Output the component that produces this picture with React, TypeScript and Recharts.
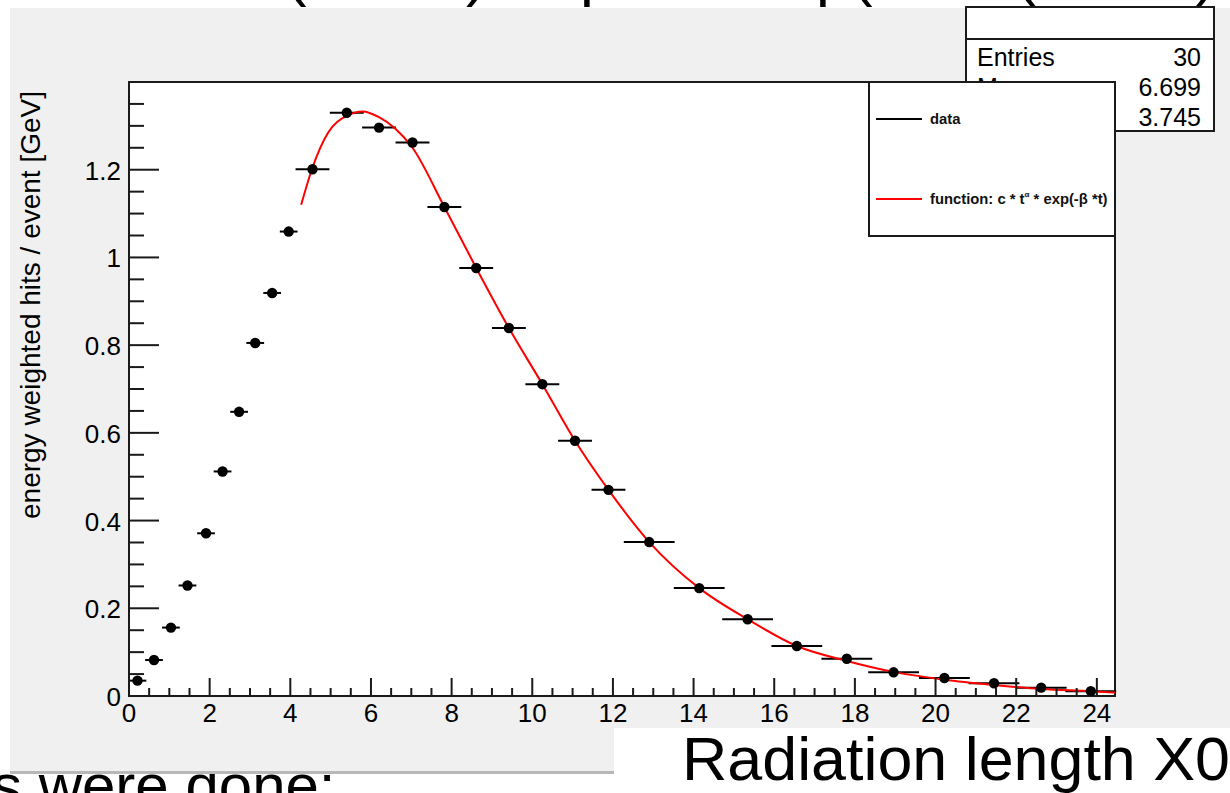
import React from 'react';
import { ComposedChart, Scatter, Line, XAxis, YAxis, ErrorBar } from 'recharts';

// ---- data ----
const binCenters = [0.21, 0.62, 1.04, 1.45, 1.91, 2.32, 2.73, 3.13, 3.55, 3.96,
  4.55, 5.40, 6.20, 7.03, 7.82, 8.61, 9.42, 10.25, 11.06, 11.89,
  12.90, 14.14, 15.34, 16.56, 17.80, 18.96, 20.22, 21.45, 22.62, 23.85];
const binValues = [0.035, 0.082, 0.156, 0.252, 0.371, 0.512, 0.648, 0.805, 0.919, 1.059,
  1.201, 1.330, 1.296, 1.262, 1.115, 0.976, 0.839, 0.711, 0.582, 0.470,
  0.351, 0.246, 0.175, 0.114, 0.085, 0.054, 0.041, 0.029, 0.019, 0.011];
const binHalfWidths = [0.22, 0.22, 0.22, 0.22, 0.22, 0.22, 0.22, 0.22, 0.22, 0.22,
  0.42, 0.42, 0.42, 0.42, 0.42, 0.42, 0.42, 0.42, 0.42, 0.42,
  0.63, 0.63, 0.63, 0.63, 0.63, 0.63, 0.63, 0.63, 0.63, 0.63];

const fitT = [4.27, 4.55, 4.94, 5.40, 5.80, 6.20, 6.60, 7.03, 7.82, 8.61, 9.42, 10.25, 11.06,
  11.89, 12.90, 14.14, 15.34, 16.56, 17.80, 18.96, 20.22, 21.45, 22.62, 23.85, 24.45];
const fitF = [1.12, 1.205, 1.285, 1.323, 1.333, 1.320, 1.294, 1.250, 1.115, 0.976, 0.839, 0.711, 0.582,
  0.470, 0.351, 0.246, 0.175, 0.114, 0.080, 0.055, 0.037, 0.025, 0.016, 0.011, 0.008];

const xMajorTicks = [0, 2, 4, 6, 8, 10, 12, 14, 16, 18, 20, 22, 24];
const xTickLabels = ['0', '2', '4', '6', '8', '10', '12', '14', '16', '18', '20', '22', '24'];
const yMajorTicks = [0, 0.2, 0.4, 0.6, 0.8, 1.0, 1.2];
const yTickLabels = ['0', '0.2', '0.4', '0.6', '0.8', '1', '1.2'];
const xAllTicks = Array.from({ length: 49 }, (_, i) => i * 0.5);
const yAllTicks = Array.from({ length: 28 }, (_, i) => Math.round(i * 5) / 100);

const statsLabels = ['Entries', 'Mean', 'RMS'];
const statsValues = ['30', '6.699', '3.745'];
const legendLabels = ['data', 'function: c * t', ' * exp(-\u03b2 *t)'];

const X_DOMAIN: [number, number] = [0, 24.45];
const Y_DOMAIN: [number, number] = [0, 1.4];

const FONT = 'Liberation Sans, Arial, Helvetica, sans-serif';
const INK = '#1a1a1a';

const points = binCenters.map((t, i) => ({ t, v: binValues[i], xe: binHalfWidths[i] }));
const fit = fitT.map((t, i) => ({ t, f: fitF[i] }));

const near = (a: number, b: number) => Math.abs(a - b) < 1e-6;

const XTick = (props: any) => {
  const { x, y, payload } = props;
  const idx = xMajorTicks.findIndex((m) => near(m, payload.value));
  const major = idx >= 0;
  return (
    <g>
      <line x1={x} x2={x} y1={y} y2={y - (major ? 18 : 8)} stroke={INK} strokeWidth={2} />
      {major && (
        <text x={x} y={y + 26} textAnchor="middle" fontSize={26} fontFamily={FONT} fill="#000">
          {xTickLabels[idx]}
        </text>
      )}
    </g>
  );
};

const YTick = (props: any) => {
  const { x, y, payload } = props;
  const idx = yMajorTicks.findIndex((m) => near(m, payload.value));
  const major = idx >= 0;
  return (
    <g>
      <line x1={x} x2={x + (major ? 30 : 15)} y1={y} y2={y} stroke={INK} strokeWidth={2} />
      {major && (
        <text x={x - 8} y={y + 10} textAnchor="end" fontSize={26} fontFamily={FONT} fill="#000">
          {yTickLabels[idx]}
        </text>
      )}
    </g>
  );
};

const Marker = (props: any) => {
  const { cx, cy } = props;
  return <circle cx={cx} cy={cy} r={5.2} fill="#000" />;
};

export default function App() {
  return (
    <div style={{ position: 'absolute', left: 0, top: 0, width: 1230, height: 793, overflow: 'hidden', background: '#fff' }}>
      {/* background layer */}
      <svg width={1230} height={793} style={{ position: 'absolute', left: 0, top: 0 }}>
        {/* cut-off slide title fragments */}
        <g fontFamily={FONT} fontSize={62} fill="#000">
          <text x={286} y={-6}>(</text>
          <text x={466} y={-6}>)</text>
          <text x={580} y={-6}>p</text>
          <text x={816} y={-6}>p</text>
          <text x={852} y={-6}>(</text>
          <text x={1016} y={-6}>(</text>
          <text x={1195} y={-6}>)</text>
        </g>
        {/* cut-off slide body text */}
        <text x={-8} y={806} fontFamily={FONT} fontSize={60} fill="#000">s were done:</text>
        {/* ROOT canvas */}
        <rect x={10} y={8} width={1220} height={764} fill="#f0f0f0" />
        <rect x={10} y={771} width={1220} height={3} fill="#b8b8b8" />
        {/* plot frame */}
        <rect x={129} y={82} width={986} height={614} fill="#fff" stroke={INK} strokeWidth={2} />
      </svg>

      <div style={{ position: 'absolute', left: 0, top: 0 }}>
        <ComposedChart width={1230} height={793} margin={{ top: 82, right: 115, bottom: 0, left: 0 }}>
          <XAxis
            type="number"
            dataKey="t"
            domain={X_DOMAIN}
            allowDataOverflow
            ticks={xAllTicks}
            interval={0}
            height={97}
            tickSize={0}
            tickMargin={0}
            axisLine={false}
            tickLine={false}
            tick={<XTick />}
          />
          <YAxis
            type="number"
            domain={Y_DOMAIN}
            allowDataOverflow
            ticks={yAllTicks}
            interval={0}
            width={129}
            tickSize={0}
            tickMargin={0}
            axisLine={false}
            tickLine={false}
            tick={<YTick />}
          />
          <Scatter data={points} dataKey="v" fill="#000" shape={<Marker />} isAnimationActive={false}>
            <ErrorBar dataKey="xe" direction="x" width={0} stroke="#000" strokeWidth={2} isAnimationActive={false} />
          </Scatter>
          <Line
            data={fit}
            dataKey="f"
            type="monotone"
            stroke="#ff0000"
            strokeWidth={2}
            dot={false}
            activeDot={false}
            isAnimationActive={false}
          />
        </ComposedChart>
      </div>

      {/* overlay layer */}
      <svg width={1230} height={793} style={{ position: 'absolute', left: 0, top: 0 }}>
        {/* y axis title */}
        <text
          transform="translate(40 305) rotate(-90)"
          textAnchor="middle"
          fontFamily={FONT}
          fontSize={28}
          fill="#000"
        >
          energy weighted hits / event [GeV]
        </text>

        {/* stats box */}
        <rect x={966} y={7} width={248} height={124} fill="#fff" stroke={INK} strokeWidth={2} />
        <line x1={966} x2={1214} y1={39} y2={39} stroke={INK} strokeWidth={2} />
        <g fontFamily={FONT} fontSize={25} fill="#000">
          {statsLabels.map((s, i) => (
            <text key={s} x={977} y={66 + i * 30}>{s}</text>
          ))}
          {statsValues.map((s, i) => (
            <text key={s} x={1201} y={66 + i * 30} textAnchor="end">{s}</text>
          ))}
        </g>

        {/* legend box */}
        <rect x={869} y={82} width={246} height={154} fill="#fff" stroke={INK} strokeWidth={2} />
        <line x1={876} x2={922} y1={119} y2={119} stroke="#000" strokeWidth={2} />
        <line x1={876} x2={922} y1={199} y2={199} stroke="#ff0000" strokeWidth={2} />
        <g fontFamily={FONT} fontSize={14.8} fontWeight="bold" fill="#111">
          <text x={930} y={124}>{legendLabels[0]}</text>
          <text x={930} y={204}>
            {legendLabels[1]}
            <tspan dy={-7} fontSize={8}>{'\u03b1'}</tspan>
            <tspan dy={7}>{legendLabels[2]}</tspan>
          </text>
        </g>

        {/* bottom-right slide caption */}
        <rect x={614} y={728} width={616} height={65} fill="#fff" />
        <text x={682} y={780} fontFamily={FONT} fontSize={61} fill="#000" textLength={548} lengthAdjust="spacingAndGlyphs">
          Radiation length X0
        </text>
      </svg>
    </div>
  );
}
